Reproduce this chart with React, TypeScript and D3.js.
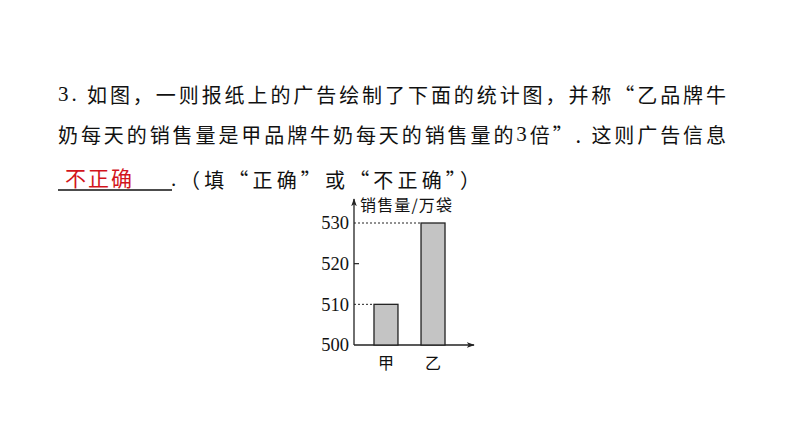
import React from "react";
import * as d3 from "d3";

const categories = ["甲", "乙"];
const sales = [510, 530];
const yTicks = [500, 510, 520, 530];
const yAxisTitle = "销售量/万袋";
const line1Num = "3.";
const line1 = " 如图，一则报纸上的广告绘制了下面的统计图，并称“乙品牌牛";
const line2a = "奶每天的销售量是甲品牌牛奶每天的销售量的";
const line2Num = "3";
const line2b = "倍”. 这则广告信息";
const answer = "不正确";
const line3Dot = ".";
const line3 = "（填“正确”或“不正确”）";

const W = 794;
const H = 447;
const serif = "'Liberation Serif', 'Times New Roman', serif";
const cjk = "'Noto Sans CJK SC', sans-serif";

export default function App() {
  const x0 = 354;
  const y0 = 345;
  const y = d3.scaleLinear().domain([500, 530]).range([y0, 223]);
  const x = d3
    .scaleBand<string>()
    .domain(categories)
    .range([x0, 465])
    .paddingInner(0.49)
    .paddingOuter(0.425);
  const data = categories.map((c, i) => ({ c, v: sales[i] }));
  const ink = "#222";

  return (
    <svg
      width={W}
      height={H}
      viewBox={`0 0 ${W} ${H}`}
      style={{ position: "absolute", left: 0, top: 0, background: "#fff" }}
    >
      <rect x={0} y={0} width={W} height={H} fill="#fff" />
      {/* question text */}
      <text
        x={58}
        y={94}
        dominantBaseline="central"
        fontFamily={cjk}
        fontSize={20}
        fill="#111"
        textLength={668}
        lengthAdjust="spacing"
      >
        <tspan fontFamily={serif} fontSize={21}>{line1Num}</tspan>
        {line1}
      </text>
      <text
        x={58}
        y={134}
        dominantBaseline="central"
        fontFamily={cjk}
        fontSize={20}
        fill="#111"
        textLength={668}
        lengthAdjust="spacing"
      >
        {line2a}
        <tspan fontFamily={serif} fontSize={21}>{line2Num}</tspan>
        {line2b}
      </text>
      <text
        x={65}
        y={177}
        dominantBaseline="central"
        fontFamily={cjk}
        fontSize={21}
        fill="#d2141c"
        textLength={67}
        lengthAdjust="spacing"
      >
        {answer}
      </text>
      <line x1={58} x2={172} y1={190} y2={190} stroke="#111" strokeWidth={1.3} />
      <text x={171} y={179} dominantBaseline="central" fontFamily={serif} fontSize={21} fill="#111">
        {line3Dot}
      </text>
      <text
        x={180}
        y={179}
        dominantBaseline="central"
        fontFamily={cjk}
        fontSize={20}
        fill="#111"
        textLength={300}
        lengthAdjust="spacing"
      >
        {line3}
      </text>

      {/* chart */}
      <defs>
        <marker
          id="arr"
          viewBox="0 0 10 10"
          refX={9}
          refY={5}
          markerWidth={8}
          markerHeight={8}
          orient="auto"
          markerUnits="userSpaceOnUse"
        >
          <path d="M0,1.5 L10,5 L0,8.5 L2.5,5 Z" fill={ink} />
        </marker>
      </defs>
      <line x1={x0} y1={y0} x2={x0} y2={199} stroke={ink} strokeWidth={1.3} markerEnd="url(#arr)" />
      <line x1={x0} y1={y0} x2={474} y2={y0} stroke={ink} strokeWidth={1.3} markerEnd="url(#arr)" />

      {yTicks.map((t) => (
        <g key={t}>
          <text
            x={349}
            y={y(t)}
            dy="0.35em"
            textAnchor="end"
            fontFamily={serif}
            fontSize={18.5}
            fill="#111"
          >
            {t}
          </text>
          {t !== 500 && !sales.includes(t) && (
            <line x1={x0} x2={x0 + 5} y1={y(t)} y2={y(t)} stroke={ink} strokeWidth={1.2} />
          )}
        </g>
      ))}

      {data.map((d) => (
        <line
          key={"g" + d.c}
          x1={x0}
          x2={x(d.c)!}
          y1={y(d.v)}
          y2={y(d.v)}
          stroke={ink}
          strokeWidth={1}
          strokeDasharray="2,2"
        />
      ))}

      {data.map((d) => (
        <rect
          key={d.c}
          x={x(d.c)!}
          y={y(d.v)}
          width={x.bandwidth()}
          height={y0 - y(d.v)}
          fill="#c4c4c4"
          stroke={ink}
          strokeWidth={1.3}
        />
      ))}

      {categories.map((c) => (
        <text
          key={"l" + c}
          x={x(c)! + x.bandwidth() / 2}
          y={362}
          dominantBaseline="central"
          textAnchor="middle"
          fontFamily={cjk}
          fontSize={16}
          fill="#111"
        >
          {c}
        </text>
      ))}

      <text
        x={360}
        y={204}
        dominantBaseline="central"
        fontFamily={cjk}
        fontSize={16}
        fill="#111"
        textLength={92}
        lengthAdjust="spacing"
      >
        {yAxisTitle}
      </text>
    </svg>
  );
}
